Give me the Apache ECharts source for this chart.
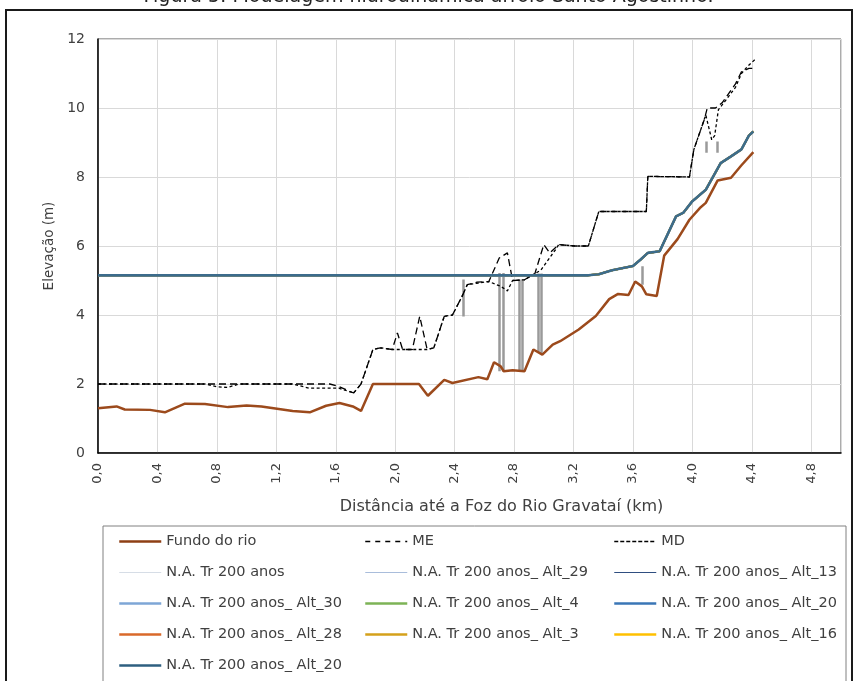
<!DOCTYPE html>
<html>
<head>
<meta charset="utf-8">
<script src="https://cdn.jsdelivr.net/npm/echarts@6/dist/echarts.min.js"></script>
<style>
  html, body { margin: 0; padding: 0; background: #ffffff; }
  #chart { width: 857px; height: 681px; }
</style>
</head>
<body>
<div id="chart"></div>
<script>
// Perfil longitudinal: fundo do rio, margens (ME / MD) e nível d'água Tr 200 anos
const xTicks = [0, 0.4, 0.8, 1.2, 1.6, 2.0, 2.4, 2.8, 3.2, 3.6, 4.0, 4.4, 4.8];
const yTicks = [0, 2, 4, 6, 8, 10, 12];

// Fundo do rio
const bedDist = [0, 0.125, 0.18, 0.35, 0.45, 0.585, 0.72, 0.875, 1.0, 1.1, 1.31, 1.425, 1.535, 1.625, 1.715, 1.77, 1.85, 2.16, 2.22, 2.33, 2.385, 2.56, 2.62, 2.665, 2.71, 2.73, 2.79, 2.87, 2.93, 2.99, 3.06, 3.11, 3.235, 3.35, 3.44, 3.5, 3.57, 3.615, 3.66, 3.69, 3.76, 3.81, 3.9, 3.98, 4.05, 4.09, 4.17, 4.26, 4.33, 4.41];
const bedElev = [1.30, 1.35, 1.26, 1.25, 1.18, 1.43, 1.42, 1.33, 1.38, 1.35, 1.22, 1.18, 1.37, 1.45, 1.35, 1.22, 2.0, 2.0, 1.66, 2.12, 2.03, 2.2, 2.14, 2.63, 2.51, 2.37, 2.4, 2.37, 3.0, 2.85, 3.14, 3.24, 3.58, 3.97, 4.46, 4.61, 4.58, 4.97, 4.83, 4.6, 4.55, 5.72, 6.2, 6.76, 7.1, 7.25, 7.9, 7.98, 8.34, 8.72];

// Margem esquerda (ME)
const leftBankDist = [0, 0.7, 1.31, 1.56, 1.62, 1.72, 1.77, 1.85, 1.9, 1.98, 2.015, 2.05, 2.115, 2.165, 2.215, 2.26, 2.33, 2.385, 2.45, 2.485, 2.55, 2.63, 2.7, 2.755, 2.79, 2.87, 2.94, 3.0, 3.04, 3.1, 3.21, 3.3, 3.37, 3.69, 3.7, 3.98, 4.01, 4.06, 4.08, 4.1, 4.155, 4.2, 4.29, 4.33, 4.38, 4.42];
const leftBankElev = [2.0, 2.0, 2.0, 2.0, 1.93, 1.74, 2.0, 3.0, 3.05, 3.0, 3.48, 3.0, 3.0, 3.96, 3.0, 3.05, 3.96, 4.0, 4.54, 4.88, 4.95, 4.97, 5.65, 5.8, 5.0, 5.02, 5.2, 6.04, 5.8, 6.04, 6.0, 6.0, 7.0, 7.0, 8.02, 8.0, 8.8, 9.42, 9.66, 10.0, 10.0, 10.15, 10.7, 11.05, 11.15, 11.15];

// Margem direita (MD)
const rightBankDist = [0, 0.72, 0.8, 0.87, 0.95, 1.31, 1.42, 1.62, 1.72, 1.77, 1.85, 1.9, 1.98, 2.215, 2.26, 2.33, 2.385, 2.45, 2.485, 2.63, 2.71, 2.755, 2.79, 2.87, 2.94, 2.98, 3.08, 3.1, 3.21, 3.3, 3.37, 3.69, 3.7, 3.98, 4.01, 4.06, 4.09, 4.13, 4.15, 4.175, 4.22, 4.29, 4.33, 4.37, 4.42];
const rightBankElev = [2.0, 2.0, 1.92, 1.9, 2.0, 2.0, 1.88, 1.88, 1.74, 2.0, 3.0, 3.05, 3.0, 3.0, 3.05, 3.96, 4.0, 4.54, 4.88, 4.97, 4.83, 4.7, 5.0, 5.02, 5.2, 5.3, 5.9, 6.04, 6.0, 6.0, 7.0, 7.0, 8.02, 8.0, 8.8, 9.42, 9.8, 9.08, 9.2, 9.95, 10.2, 10.6, 11.0, 11.2, 11.4];

// N.A. Tr 200 anos (as alternativas coincidem no trecho)
const waterDist = [0, 3.3, 3.37, 3.46, 3.6, 3.65, 3.7, 3.78, 3.89, 3.94, 4.0, 4.09, 4.19, 4.26, 4.33, 4.38, 4.41];
const waterElev = [5.15, 5.15, 5.18, 5.3, 5.42, 5.6, 5.8, 5.85, 6.86, 6.97, 7.3, 7.63, 8.4, 8.6, 8.8, 9.2, 9.32];

// Estruturas (pontes / bueiros): distância, cota superior, cota inferior
const structDist = [2.455, 2.70, 2.725, 2.835, 2.855, 2.96, 2.985, 3.66, 4.09, 4.17];
const structTop = [5.03, 5.22, 5.22, 5.03, 5.03, 5.2, 5.2, 5.41, 9.03, 9.03];
const structBottom = [3.96, 2.37, 2.37, 2.37, 2.37, 2.9, 2.9, 4.88, 8.7, 8.7];

const zip = (xs, ys) => xs.map((x, i) => [x, ys[i]]);
const FONT = 'DejaVu Sans';

const waterNames = [
  ['N.A. Tr 200 anos', '#D6DDE6', 1],
  ['N.A. Tr 200 anos_ Alt_29', '#A9BDDB', 1],
  ['N.A. Tr 200 anos_ Alt_13', '#2F4E80', 1],
  ['N.A. Tr 200 anos_ Alt_30', '#7EA6D6', 2],
  ['N.A. Tr 200 anos_ Alt_4', '#7DB356', 2],
  ['N.A. Tr 200 anos_ Alt_20', '#3A76B6', 2],
  ['N.A. Tr 200 anos_ Alt_28', '#D9692A', 2],
  ['N.A. Tr 200 anos_ Alt_3', '#D4A11B', 2],
  ['N.A. Tr 200 anos_ Alt_16', '#FFC000', 2]
];

const series = [
  {
    name: 'Fundo do rio', type: 'line', data: zip(bedDist, bedElev),
    symbol: 'none', lineStyle: { color: '#9C4A1C', width: 2.5 }, itemStyle: { color: '#9C4A1C' }, z: 4
  },
  {
    name: 'ME', type: 'line', data: zip(leftBankDist, leftBankElev),
    symbol: 'none', lineStyle: { color: '#000000', width: 1.3, type: [7, 4] }, itemStyle: { color: '#000000' }, z: 5
  },
  {
    name: 'MD', type: 'line', data: zip(rightBankDist, rightBankElev),
    symbol: 'none', lineStyle: { color: '#000000', width: 1.3, type: [3, 2.5] }, itemStyle: { color: '#000000' }, z: 5
  },
  {
    name: 'estruturas', type: 'lines', coordinateSystem: 'cartesian2d', silent: true,
    data: structDist.map((d, i) => ({ coords: [[d, structTop[i]], [d, structBottom[i]]] })),
    lineStyle: { color: '#9A9A9A', width: 2.5, opacity: 1 }, z: 3
  }
];
waterNames.forEach(([name, color, width]) => {
  series.push({
    name, type: 'line', data: zip(waterDist, waterElev), symbol: 'none',
    lineStyle: { color, width }, itemStyle: { color }, z: 2
  });
});
series.push({
  name: 'N.A. Tr 200 anos_ Alt_20', type: 'line', data: zip(waterDist, waterElev), symbol: 'none',
  lineStyle: { color: '#3C6C8C', width: 2.6 }, itemStyle: { color: '#3C6C8C' }, z: 6
});

// Legenda em três colunas; o marcador é só o traço da linha
const legendBase = {
  orient: 'vertical', top: 534, padding: 0, itemWidth: 42, itemHeight: 14, itemGap: 16,
  selectedMode: false,
  itemStyle: { opacity: 0 },
  textStyle: { fontFamily: FONT, fontSize: 14.5, color: '#404040', lineHeight: 14 }
};
const li = (name, color, width, type) => ({
  name, lineStyle: Object.assign({ color, width }, type ? { type } : {})
});

const chart = echarts.init(document.getElementById('chart'), null, { renderer: 'canvas' });
chart.setOption({
  animation: false,
  backgroundColor: '#ffffff',
  title: {
    text: 'Figura 5: Modelagem hidrodinâmica arroio Santo Agostinho.',
    left: 'center', top: -17,
    textStyle: { fontFamily: FONT, fontSize: 19, fontWeight: 'normal', color: '#222222' }
  },
  graphic: [
    { type: 'rect', shape: { x: 6, y: 10, width: 846, height: 690 }, style: { fill: 'none', stroke: '#1a1a1a', lineWidth: 2 }, silent: true, z: -1 },
    { type: 'rect', shape: { x: 103, y: 526, width: 743, height: 170 }, style: { fill: 'none', stroke: '#808080', lineWidth: 1 }, silent: true, z: -1 }
  ],
  grid: { left: 98, right: 16, top: 39, bottom: 228, show: true, borderColor: '#595959', borderWidth: 1 },
  xAxis: {
    type: 'value', min: xTicks[0], max: 5, interval: 0.4,
    name: 'Distância até a Foz do Rio Gravataí (km)', nameLocation: 'middle', nameGap: 46,
    nameTextStyle: { fontFamily: FONT, fontSize: 16, color: '#404040', padding: [0, 0, 0, 64] },
    axisLine: { show: true, lineStyle: { color: '#000000', width: 1.5 } },
    axisTick: { show: false },
    axisLabel: {
      rotate: 90, margin: 10, showMaxLabel: false,
      fontFamily: FONT, fontSize: 13, color: '#404040',
      formatter: v => xTicks.some(t => Math.abs(t - v) < 1e-6) ? v.toFixed(1).replace('.', ',') : ''
    },
    splitLine: { show: true, lineStyle: { color: '#D9D9D9', width: 1 } }
  },
  yAxis: {
    type: 'value', min: yTicks[0], max: yTicks[yTicks.length - 1], interval: 2,
    name: 'Elevação (m)', nameLocation: 'middle', nameGap: 36,
    nameTextStyle: { fontFamily: FONT, fontSize: 13.5, color: '#404040' },
    axisLine: { show: true, lineStyle: { color: '#000000', width: 1.5 } },
    axisTick: { show: false },
    axisLabel: { margin: 13, fontFamily: FONT, fontSize: 14, color: '#404040' },
    splitLine: { show: true, lineStyle: { color: '#D9D9D9', width: 1 } }
  },
  legend: [
    Object.assign({}, legendBase, {
      left: 118,
      data: [
        li('Fundo do rio', '#8E3F14', 2.5),
        li('N.A. Tr 200 anos', '#D6DDE6', 1.2),
        li('N.A. Tr 200 anos_ Alt_30', '#7EA6D6', 2.5),
        li('N.A. Tr 200 anos_ Alt_28', '#D9692A', 2.5),
        li('N.A. Tr 200 anos_ Alt_20', '#2E5F80', 2.5)
      ]
    }),
    Object.assign({}, legendBase, {
      left: 364,
      data: [
        li('ME', '#000000', 1.5, [5, 5]),
        li('N.A. Tr 200 anos_ Alt_29', '#A9BDDB', 1.2),
        li('N.A. Tr 200 anos_ Alt_4', '#7DB356', 2.5),
        li('N.A. Tr 200 anos_ Alt_3', '#D4A11B', 2.5)
      ]
    }),
    Object.assign({}, legendBase, {
      left: 613,
      data: [
        li('MD', '#000000', 1.5, [4, 2]),
        li('N.A. Tr 200 anos_ Alt_13', '#2F4E80', 1.2),
        li('N.A. Tr 200 anos_ Alt_20', '#3A76B6', 2.5),
        li('N.A. Tr 200 anos_ Alt_16', '#FFC000', 2.5)
      ]
    })
  ],
  series
});
</script>
</body>
</html>
